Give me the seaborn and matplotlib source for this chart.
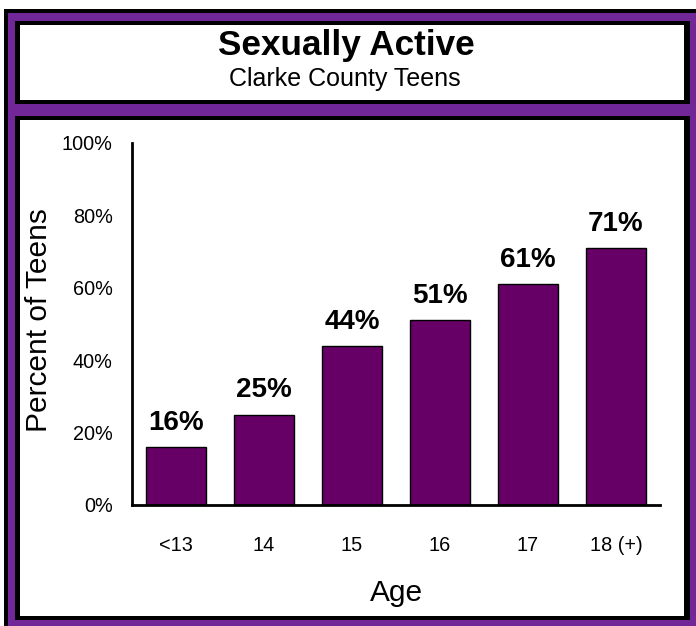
import matplotlib
matplotlib.use("Agg")
import matplotlib.pyplot as plt
from matplotlib.patches import Rectangle
from matplotlib.ticker import FuncFormatter
import seaborn as sns
import pandas as pd

ages = ["<13", "14", "15", "16", "17", "18 (+)"]
percent_active = [16, 25, 44, 51, 61, 71]
y_ticks = [0, 20, 40, 60, 80, 100]
title = "Sexually Active"
subtitle = "Clarke County Teens"

sns.set_theme(style="white")
plt.rcParams["font.family"] = ["Liberation Sans", "DejaVu Sans"]

W, H = 696, 626
fig = plt.figure(figsize=(W / 100, H / 100), dpi=100)
fig.patch.set_facecolor("white")

def prect(x, y_top, w, h, color, z):
    r = Rectangle((x / W, 1 - (y_top + h) / H), w / W, h / H,
                  transform=fig.transFigure, facecolor=color,
                  edgecolor="none", zorder=z)
    fig.add_artist(r)

PURPLE = "#712797"
# outer frame
prect(4, 9, 800, 800, "black", -10)
prect(8, 13, 800, 800, PURPLE, -9)
# title box
prect(15, 21, 675, 83, "black", -8)
prect(20, 25, 664, 75, "white", -7)
# chart box
prect(15, 116, 675, 504, "black", -8)
prect(20, 120, 664, 496, "white", -7)

fig.text(346 / W, 1 - 46 / H, title, ha="center", va="center",
         fontsize=25.3, fontweight="bold", color="black")
fig.text(345 / W, 1 - 79 / H, subtitle, ha="center", va="center",
         fontsize=18, color="black")

ax = fig.add_axes([132 / W, (H - 505) / H, 528 / W, 362 / H])
ax.set_facecolor("none")

df = pd.DataFrame({"Age": ages, "Percent": percent_active})
sns.barplot(data=df, x="Age", y="Percent", ax=ax, color="#660066",
            saturation=1, edgecolor="black", linewidth=1, width=0.68)

ax.set_ylim(0, 100)
ax.set_xlim(-0.5, 5.5)
ax.set_yticks(y_ticks)
ax.yaxis.set_major_formatter(FuncFormatter(lambda v, p: f"{int(v)}%"))
ax.tick_params(axis="y", length=0, pad=14, labelsize=14.3, colors="black")
ax.tick_params(axis="x", length=0, pad=22, labelsize=14.3, colors="black")

for s in ["top", "right"]:
    ax.spines[s].set_visible(False)
for s in ["left", "bottom"]:
    ax.spines[s].set_color("black")
    ax.spines[s].set_linewidth(2)

for c in ax.containers:
    ax.bar_label(c, labels=[f"{v}%" for v in percent_active], padding=8,
                 fontsize=20, fontweight="bold", color="black")

ax.set_xlabel("Age", fontsize=21.5, color="black")
ax.set_ylabel("Percent of Teens", fontsize=21.5, color="black")
ax.xaxis.set_label_coords(0.5, (505 - 593) / 362)
ax.xaxis.label.set_va("center")
ax.yaxis.set_label_coords((39 - 132) / 528, (505 - 320) / 362)
ax.yaxis.label.set_va("center")

fig.savefig("out.png", dpi=100)
